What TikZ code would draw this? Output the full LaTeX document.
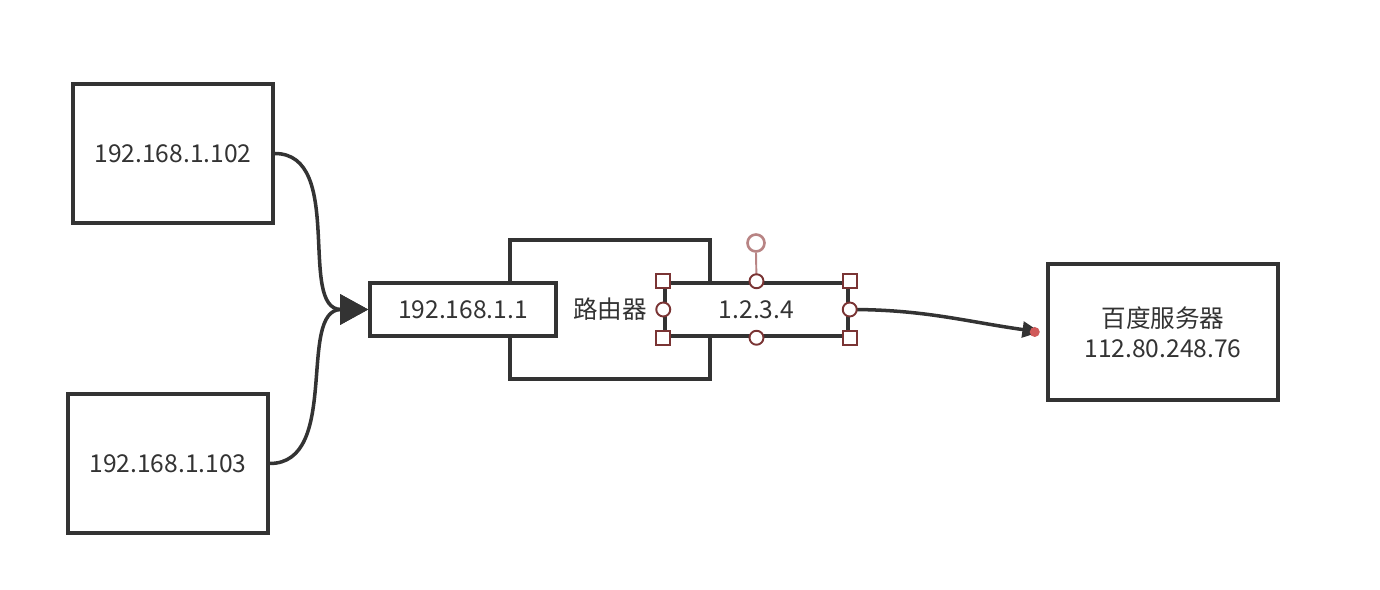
\documentclass[tikz,border=0pt]{standalone}
\usepackage{fontspec}
\setmainfont{Noto Sans CJK SC}
\usetikzlibrary{positioning, arrows.meta}

\definecolor{linegray}{HTML}{333333}
\definecolor{handlered}{HTML}{7A3434}
\definecolor{rothandle}{HTML}{B88484}
\definecolor{dotred}{HTML}{D05A5A}

\tikzset{
  box/.style={draw=linegray, line width=2pt, fill=white, text=linegray,
    font=\fontsize{14pt}{17pt}\selectfont, align=center, inner sep=0pt},
  link/.style={draw=linegray, line width=2pt},
  sqhandle/.style={draw=handlered, fill=white, line width=1.1pt,
    minimum size=0.28cm, inner sep=0pt},
  cirhandle/.style={sqhandle, circle},
}

\begin{document}
\begin{tikzpicture}[x=0.02cm, y=-0.02cm]

    \useasboundingbox (0,0) rectangle (1380,590);

    \node[box, minimum width=4cm, minimum height=2.78cm] (hosta) at (173,153.5) {192.168.1.102};
    \node[box, minimum width=4cm, minimum height=2.78cm] (hostb) at (168,463.5) {192.168.1.103};

    \node[box, minimum width=4cm, minimum height=2.78cm] (router) at (610,309.5) {路由器};
    \node[box, minimum width=3.72cm, minimum height=1.06cm] (lan) at (463,309.5) {192.168.1.1};
    \node[box, minimum width=3.66cm, minimum height=1.06cm] (wan) at (756.5,309.5) {1.2.3.4};

    \node[box, minimum width=4.6cm, minimum height=2.72cm] (server) at (1163,332) {百度服务器\\112.80.248.76};

    \draw[link, -{Triangle[length=16pt, width=17pt]}] (hosta.east) to[out=0, in=180] (lan.west);
    \draw[link, -{Triangle[length=16pt, width=17pt]}] (hostb.east) to[out=0, in=180] (lan.west);

    \coordinate (tip) at (1040,332);
    \draw[link, -{Triangle[length=10pt, width=9pt]}] (wan.east) to[out=0, in=172] (tip);
    \fill[dotred] ([xshift=-3]tip) circle (5);

    \node[circle, draw=rothandle, fill=white, line width=1.5pt, minimum size=0.34cm, inner sep=0pt] (rot) at (756,243) {};
    \draw[rothandle, line width=1.1pt] (rot.south) -- (wan.north);

    \foreach \c [count=\i] in {north west, north east, south west, south east}
      \node[sqhandle] (sq-\i) at (wan.\c) {};
    \foreach \c [count=\i] in {north, south, west, east}
      \node[cirhandle] (ci-\i) at (wan.\c) {};

\end{tikzpicture}
\end{document}
